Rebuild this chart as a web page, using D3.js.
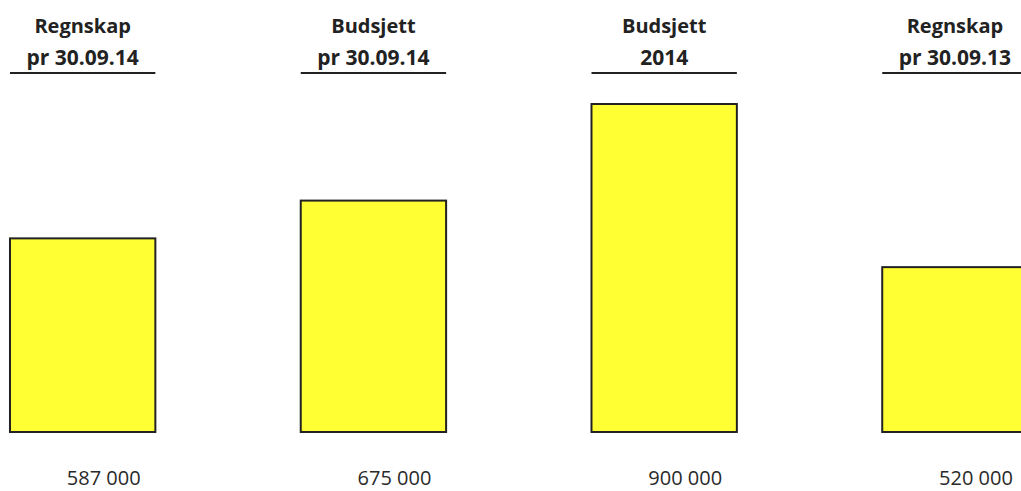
<!DOCTYPE html>
<html>
<head>
<meta charset="utf-8">
<script src="https://cdn.jsdelivr.net/npm/d3@7"></script>
<style>
  html, body { margin: 0; padding: 0; background: #fff; overflow: hidden; }
  svg { display: block; }
</style>
</head>
<body>
<svg id="chart" width="1021" height="491"></svg>
<script>
const categories = ["Regnskap pr 30.09.14", "Budsjett pr 30.09.14", "Budsjett 2014", "Regnskap pr 30.09.13"];
const headerLine1 = ["Regnskap", "Budsjett", "Budsjett", "Regnskap"];
const headerLine2 = ["pr 30.09.14", "pr 30.09.14", "2014", "pr 30.09.13"];
const values = [587000, 675000, 900000, 520000];
const valueLabels = ["587 000", "675 000", "900 000", "520 000"];

const svg = d3.select("#chart");

const x = d3.scaleBand()
  .domain(categories)
  .range([-62.7, 1100.3])
  .paddingInner(0.5)
  .paddingOuter(0.25);

const y = d3.scaleLinear()
  .domain([136000, 900000])
  .range([432, 104]);

const ink = "#222";

const g = svg.append("g");

g.selectAll("rect.bar")
  .data(categories)
  .enter().append("rect")
  .attr("class", "bar")
  .attr("x", d => x(d))
  .attr("width", x.bandwidth())
  .attr("y", (d, i) => y(values[i]))
  .attr("height", (d, i) => y(y.domain()[0]) - y(values[i]))
  .attr("fill", "#ffff33")
  .attr("stroke", ink)
  .attr("stroke-width", 2);

const font = "'Open Sans', 'DejaVu Sans', sans-serif";

g.selectAll("text.h1")
  .data(categories)
  .enter().append("text")
  .attr("class", "h1")
  .attr("x", d => x(d) + x.bandwidth() / 2)
  .attr("y", 33)
  .attr("text-anchor", "middle")
  .attr("font-family", font)
  .attr("font-weight", "bold")
  .attr("font-size", 20)
  .attr("fill", ink)
  .text((d, i) => headerLine1[i]);

g.selectAll("text.h2")
  .data(categories)
  .enter().append("text")
  .attr("class", "h2")
  .attr("x", d => x(d) + x.bandwidth() / 2)
  .attr("y", 65)
  .attr("text-anchor", "middle")
  .attr("font-family", font)
  .attr("font-weight", "bold")
  .attr("font-size", 21)
  .attr("fill", ink)
  .text((d, i) => headerLine2[i]);

g.selectAll("line.ul")
  .data(categories)
  .enter().append("line")
  .attr("class", "ul")
  .attr("x1", d => x(d))
  .attr("x2", d => x(d) + x.bandwidth())
  .attr("y1", 73)
  .attr("y2", 73)
  .attr("stroke", ink)
  .attr("stroke-width", 2);

g.selectAll("text.val")
  .data(categories)
  .enter().append("text")
  .attr("class", "val")
  .attr("x", d => x(d) + x.bandwidth() / 2 + 21)
  .attr("y", 485)
  .attr("text-anchor", "middle")
  .attr("font-family", font)
  .attr("font-size", 20)
  .attr("fill", "#2a2a2a")
  .text((d, i) => valueLabels[i]);
</script>
</body>
</html>
